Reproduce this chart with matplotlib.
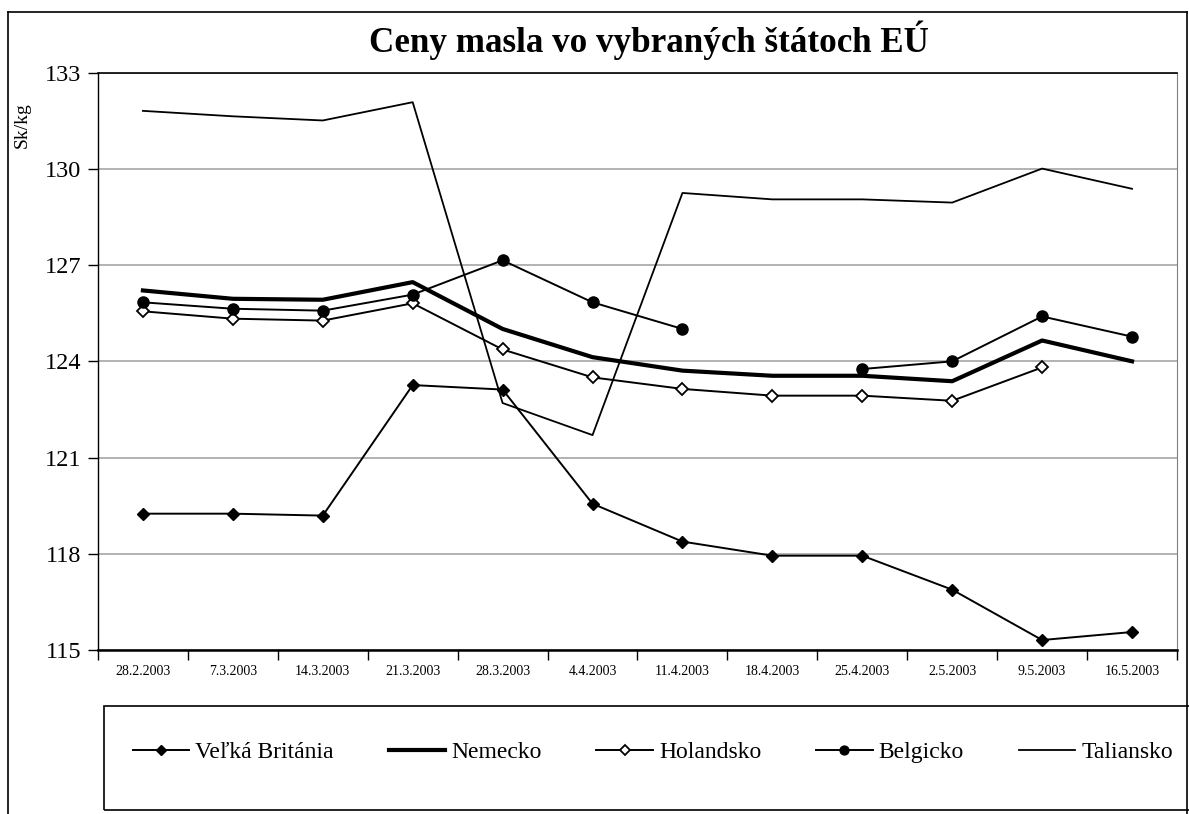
# butter prices chart - rebuilt from the printed report

import numpy as np
import matplotlib
matplotlib.use('Agg')
import matplotlib.pyplot as plt
from matplotlib.lines import Line2D
from matplotlib.patches import Rectangle

dates = ['28.2.2003', '7.3.2003', '14.3.2003', '21.3.2003', '28.3.2003', '4.4.2003',
         '11.4.2003', '18.4.2003', '25.4.2003', '2.5.2003', '9.5.2003', '16.5.2003']

velkaBritania = [119.25, 119.25, 119.19, 123.26, 123.12, 119.56,
                 118.38, 117.94, 117.94, 116.88, 115.31, 115.56]
nemecko = [126.21, 125.95, 125.92, 126.47, 125.01, 124.13,
           123.71, 123.55, 123.55, 123.38, 124.65, 124.00]
holandsko = [125.56, 125.33, 125.27, 125.81, 124.37, 123.50,
             123.14, 122.93, 122.93, 122.77, 123.81, np.nan]
belgicko = [125.84, 125.64, 125.58, 126.08, 127.15, 125.84,
            125.01, np.nan, 123.76, 124.00, 125.40, 124.77]
taliansko = [131.81, 131.64, 131.51, 132.08, 122.70, 121.70,
             129.25, 129.05, 129.05, 128.95, 130.01, 129.38]

yTicks = [115, 118, 121, 124, 127, 130, 133]

plt.rcParams['font.family'] = ['Liberation Serif', 'DejaVu Serif']

fig = plt.figure(figsize=(11.89, 8.14), dpi=100)
ax = fig.add_axes([0.0824, 0.2015, 0.9075, 0.7092])

x = np.arange(len(dates))

ax.plot(x, velkaBritania, color='black', lw=1.4, marker='D', ms=6.5,
        mfc='black', mec='black', label='Veľká Británia', zorder=3)
ax.plot(x, nemecko, color='black', lw=3.0, label='Nemecko', zorder=3)
ax.plot(x, holandsko, color='black', lw=1.4, marker='D', ms=6.5,
        mfc='white', mec='black', mew=1.3, label='Holandsko', zorder=3)
ax.plot(x, belgicko, color='black', lw=1.4, marker='o', ms=8,
        mfc='black', mec='black', label='Belgicko', zorder=3)
ax.plot(x, taliansko, color='black', lw=1.3, label='Taliansko', zorder=3)

ax.set_xlim(-0.5, len(dates) - 0.5)
ax.set_ylim(115, 133)
ax.set_yticks(yTicks)
ax.tick_params(axis='y', labelsize=17.5, length=7, width=1, direction='out', pad=5)
ax.yaxis.grid(True, color='#a6a6a6', lw=1.2)
ax.set_axisbelow(True)

# excel style: tick marks between categories, labels centred
ax.set_xticks(np.arange(-0.5, len(dates)), labels=[''] * (len(dates) + 1))
ax.set_xticks(x, labels=dates, minor=True)
ax.tick_params(axis='x', which='major', length=7, width=1, direction='out')
ax.tick_params(axis='x', which='minor', length=0, labelsize=10, pad=11)

ax.spines['left'].set_linewidth(1.0)
ax.spines['bottom'].set_linewidth(1.8)
ax.spines['top'].set_linewidth(1.2)
ax.spines['right'].set_color('#808080')

ax.set_ylabel('Sk/kg', fontsize=14)
ax.yaxis.set_label_coords(-0.062, 0.91)

fig.text(0.546, 0.951, 'Ceny masla vo vybraných štátoch EÚ', ha='center', va='center',
         fontsize=25.2, fontweight='bold')

# outer chart border (cut off at the bottom)
fig.add_artist(Line2D([0.0067, 0.0067], [0, 0.985], color='black', lw=1.2))
fig.add_artist(Line2D([0.0067, 0.998], [0.985, 0.985], color='black', lw=1.2))
fig.add_artist(Line2D([0.998, 0.998], [0, 0.985], color='black', lw=1.2))

# legend box
fig.add_artist(Rectangle((0.0875, 0.005), 0.95, 0.128, transform=fig.transFigure,
                         fill=False, ec='black', lw=1.2, clip_on=False))
handles, labels = ax.get_legend_handles_labels()
fig.legend(handles, labels, loc='center', bbox_to_anchor=(0.549, 0.076), ncol=5,
           frameon=False, fontsize=17, handlelength=2.4, handletextpad=0.25,
           columnspacing=2.32, markerscale=0.8)

plt.savefig('out.png', dpi=100)
